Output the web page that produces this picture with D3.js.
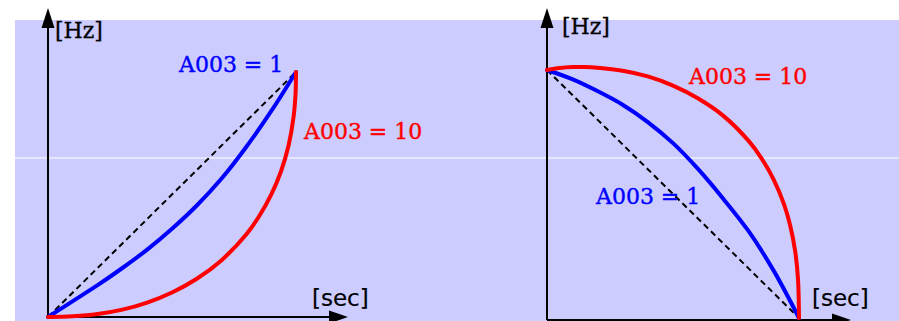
<!DOCTYPE html>
<html>
<head>
<meta charset="utf-8">
<script src="https://cdn.jsdelivr.net/npm/d3@7"></script>
<style>
  html, body { margin: 0; padding: 0; background: #ffffff; }
  svg { display: block; }
</style>
</head>
<body>
<svg id="chart" width="899" height="321"></svg>
<script>
// Acceleration (left) and deceleration (right) pattern curves, normalized time vs. frequency.
const accelLinear = [[0, 0], [1, 1]];
const accelA003_1 = [[0, 0], [0.1, 0.065], [0.2, 0.13], [0.3, 0.20], [0.4, 0.275], [0.5, 0.36], [0.6, 0.455], [0.7, 0.565], [0.8, 0.695], [0.9, 0.84], [1, 1]];
const accelA003_10 = [[0, 0], [0.1, 0.003], [0.2, 0.012], [0.3, 0.03], [0.4, 0.059], [0.5, 0.10], [0.6, 0.156], [0.7, 0.232], [0.8, 0.338], [0.85, 0.409], [0.9, 0.499], [0.94, 0.596], [0.97, 0.70], [0.99, 0.815], [0.998, 0.909], [1, 1]];

const decelLinear = [[0, 1], [1, 0]];
const decelA003_1 = [[0, 1], [0.1, 0.963], [0.2, 0.915], [0.3, 0.86], [0.4, 0.79], [0.5, 0.705], [0.6, 0.60], [0.7, 0.48], [0.8, 0.35], [0.9, 0.19], [1, 0]];
const decelA003_10 = [[0, 1], [0.05, 1.008], [0.1, 1.012], [0.15, 1.012], [0.2, 1.009], [0.3, 0.997], [0.4, 0.974], [0.5, 0.937], [0.6, 0.885], [0.7, 0.815], [0.8, 0.714], [0.85, 0.646], [0.9, 0.557], [0.94, 0.46], [0.965, 0.373], [0.985, 0.268], [0.996, 0.158], [1, 0]];

const curveLabels = ["A003 = 1", "A003 = 10"];
const axisLabels = { y: "[Hz]", x: "[sec]" };

const svg = d3.select("#chart");

// backdrop
svg.append("rect").attr("x", 15).attr("y", 20).attr("width", 884).attr("height", 301).attr("fill", "#ccccff");
svg.append("line").attr("x1", 15).attr("x2", 899).attr("y1", 158).attr("y2", 158)
  .attr("stroke", "#ffffff").attr("stroke-width", 1.2);

const panels = [
  {
    x: d3.scaleLinear().domain([0, 1]).range([48, 296]),
    y: d3.scaleLinear().domain([0, 1]).range([317, 72]),
    axisY: 317,
    linear: accelLinear, blue: accelA003_1, red: accelA003_10,
    hz: [55, 38], sec: [312, 306],
    blueLabel: [179, 72], redLabel: [304, 139]
  },
  {
    x: d3.scaleLinear().domain([0, 1]).range([547, 799]),
    y: d3.scaleLinear().domain([0, 1]).range([318, 70]),
    axisY: 320,
    linear: decelLinear, blue: decelA003_1, red: decelA003_10,
    hz: [562, 34], sec: [812, 306],
    blueLabel: [596, 204], redLabel: [689, 84]
  }
];

panels.forEach(p => {
  const g = svg.append("g");
  const x0 = p.x(0);

  // vertical axis with arrow
  g.append("line").attr("x1", x0).attr("x2", x0).attr("y1", p.axisY).attr("y2", 26)
    .attr("stroke", "#000").attr("stroke-width", 2);
  g.append("path").attr("d", `M${x0},8 L${x0 - 6.5},28 L${x0 + 6.5},28 Z`).attr("fill", "#000");

  // horizontal axis with arrow
  const xEnd = p.x(1) + 52;
  g.append("line").attr("x1", x0).attr("x2", xEnd - 16).attr("y1", p.axisY).attr("y2", p.axisY)
    .attr("stroke", "#000").attr("stroke-width", 2);
  g.append("path").attr("d", `M${xEnd},${p.axisY} L${xEnd - 19},${p.axisY - 6.5} L${xEnd - 19},${p.axisY + 6.5} Z`).attr("fill", "#000");

  const line = d3.line().x(d => p.x(d[0])).y(d => p.y(d[1])).curve(d3.curveCatmullRom.alpha(0.5));

  g.append("path").attr("d", line(p.linear)).attr("fill", "none")
    .attr("stroke", "#000").attr("stroke-width", 2).attr("stroke-dasharray", "6,4");
  g.append("path").attr("d", line(p.blue)).attr("fill", "none")
    .attr("stroke", "#0000ff").attr("stroke-width", 4).attr("stroke-linecap", "round");
  g.append("path").attr("d", line(p.red)).attr("fill", "none")
    .attr("stroke", "#ff0000").attr("stroke-width", 4).attr("stroke-linecap", "round");

  g.append("text").attr("x", p.hz[0]).attr("y", p.hz[1]).text(axisLabels.y)
    .attr("font-family", "DejaVu Serif").attr("font-size", 22).attr("fill", "#000")
    .attr("stroke", "#000").attr("stroke-width", 0.3);
  g.append("text").attr("x", p.sec[0]).attr("y", p.sec[1]).text(axisLabels.x)
    .attr("font-family", "DejaVu Sans").attr("font-size", 23).attr("fill", "#000")
    .attr("stroke", "#000").attr("stroke-width", 0.2);

  g.append("text").attr("x", p.blueLabel[0]).attr("y", p.blueLabel[1]).text(curveLabels[0])
    .attr("font-family", "DejaVu Serif").attr("font-size", 22).attr("fill", "#0000ff")
    .attr("stroke", "#0000ff").attr("stroke-width", 0.4);
  g.append("text").attr("x", p.redLabel[0]).attr("y", p.redLabel[1]).text(curveLabels[1])
    .attr("font-family", "DejaVu Serif").attr("font-size", 22).attr("fill", "#ff0000")
    .attr("stroke", "#ff0000").attr("stroke-width", 0.4);
});
</script>
</body>
</html>
